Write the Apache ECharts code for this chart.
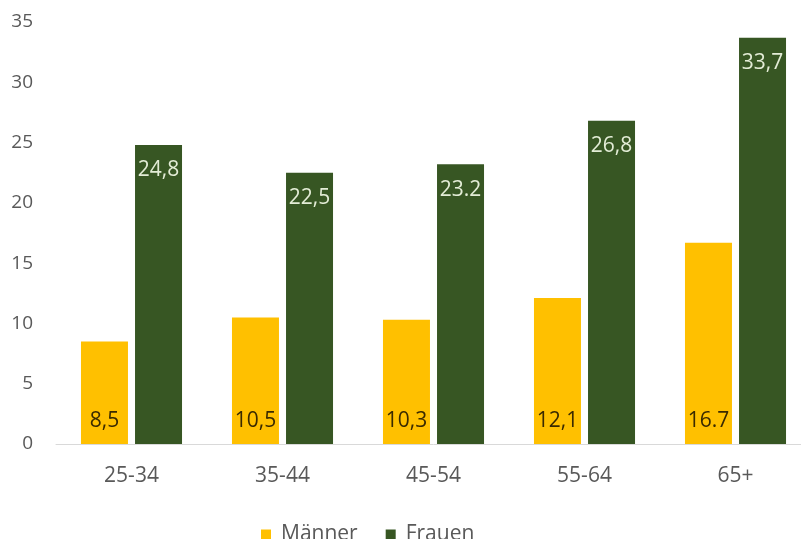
<!DOCTYPE html>
<html>
<head>
<meta charset="utf-8">
<script src="https://cdn.jsdelivr.net/npm/echarts@6/dist/echarts.min.js"></script>
<style>html,body{margin:0;padding:0;background:#fff;overflow:hidden;width:801px;height:539px}#c{width:813px;height:539px}</style>
</head>
<body>
<div id="c"></div>
<script>
var categories = ['25-34', '35-44', '45-54', '55-64', '65+'];
var maenner = [8.5, 10.5, 10.3, 12.1, 16.7];
var frauen = [24.8, 22.5, 23.2, 26.8, 33.7];
var maennerLabels = ['8,5', '10,5', '10,3', '12,1', '16.7'];
var frauenLabels = ['24,8', '22,5', '23.2', '26,8', '33,7'];
var seriesNames = ['Männer', 'Frauen'];

var font = "'Open Sans', 'Noto Sans', sans-serif";
var chart = echarts.init(document.getElementById('c'));
chart.setOption({
  animation: false,
  textStyle: { fontFamily: font },
  grid: { left: 56, right: 2, top: 22, bottom: 95, containLabel: false },
  legend: {
    top: 519, left: 256, itemWidth: 10, itemHeight: 10, itemGap: 28,
    icon: 'rect',
    textStyle: { fontSize: 21, color: '#595959', fontFamily: font, padding: [0, 0, 0, 5] },
    data: seriesNames
  },
  xAxis: {
    type: 'category', data: categories,
    axisLine: { lineStyle: { color: '#d9d9d9', width: 1 } },
    axisTick: { show: false },
    axisLabel: { color: '#595959', fontSize: 21, margin: 22, fontFamily: font }
  },
  yAxis: {
    type: 'value', min: 0, max: 35, interval: 5,
    axisLine: { show: false }, axisTick: { show: false },
    splitLine: { show: false },
    axisLabel: { color: '#595959', fontSize: 19, margin: 23, fontFamily: font }
  },
  series: [
    {
      name: seriesNames[0], type: 'bar', data: maenner, barWidth: 47, barGap: '15%',
      itemStyle: { color: '#FFC000' },
      label: { show: true, position: 'insideBottom', distance: 12, color: '#3a2a00', fontSize: 21, fontFamily: font,
        formatter: function (p) { return maennerLabels[p.dataIndex]; } }
    },
    {
      name: seriesNames[1], type: 'bar', data: frauen, barWidth: 47, barGap: '15%',
      itemStyle: { color: '#375623' },
      label: { show: true, position: 'insideTop', distance: 15, color: '#e3ecd6', fontSize: 21, fontFamily: font,
        formatter: function (p) { return frauenLabels[p.dataIndex]; } }
    }
  ]
});
</script>
</body>
</html>
